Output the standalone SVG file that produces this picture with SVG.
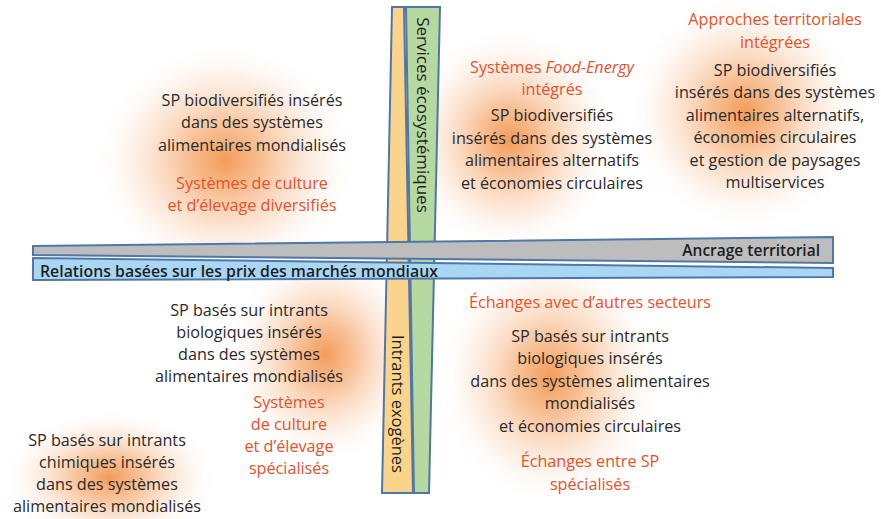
<svg xmlns="http://www.w3.org/2000/svg" width="881" height="519" viewBox="0 0 881 519">
<defs>
<radialGradient id="glow" cx="50%" cy="50%" r="50%">
<stop offset="0" stop-color="#f08a3c" stop-opacity="0.85"/>
<stop offset="0.3" stop-color="#f39a55" stop-opacity="0.6"/>
<stop offset="0.65" stop-color="#f8c49c" stop-opacity="0.3"/>
<stop offset="1" stop-color="#ffffff" stop-opacity="0"/>
</radialGradient>
<style>
text{font-family:"Open Sans","Noto Sans",sans-serif;font-size:16.2px;text-anchor:middle;fill:#2a2a2a}
.r{fill:#e2532e}
.bar{stroke:#4f77a9;stroke-width:2;stroke-linejoin:miter}
.lab{font-size:15.5px;font-weight:600;fill:#1e1e1e}
.v{font-size:17px;fill:#1e1e1e}
</style>
</defs>
<rect width="881" height="519" fill="#ffffff"/>
<g id="glows">
<ellipse cx="225" cy="160" rx="135" ry="120" fill="url(#glow)"/>
<ellipse cx="510" cy="140" rx="110" ry="115" fill="url(#glow)"/>
<ellipse cx="745" cy="112" rx="120" ry="120" fill="url(#glow)"/>
<ellipse cx="325" cy="355" rx="100" ry="110" fill="url(#glow)"/>
<ellipse cx="550" cy="378" rx="115" ry="130" fill="url(#glow)"/>
<ellipse cx="110" cy="478" rx="110" ry="70" fill="url(#glow)"/>
</g>
<g id="axis-vertical">
<polygon class="bar" points="392,7 404,7 413,493 382,493" fill="#fbd48c"/>
<polygon class="bar" points="406,7 440,7 429,493 414,493" fill="#b6d9a1"/>
<text class="v" transform="translate(423,115) rotate(90)" x="0" y="6">Services écosystémiques</text>
<text class="v" transform="translate(398,404) rotate(90)" x="0" y="6" style="font-size:16.5px">Intrants exogènes</text>
</g>
<g id="axis-horizontal">
<polygon class="bar" points="33,246 833,237 833,263 33,255" fill="#bdbdbd"/>
<polygon class="bar" points="33,258 833,268 833,277 33,280" fill="#a9d7f3"/>
<text class="lab" x="820" y="256" style="text-anchor:end">Ancrage territorial</text>
<text class="lab" x="40" y="277" style="text-anchor:start" textLength="398" lengthAdjust="spacingAndGlyphs">Relations basées sur les prix des marchés mondiaux</text>
</g>
<g id="connectors"></g>
<g id="node-top-left">
<text x="252" y="106">SP biodiversifiés insérés</text>
<text x="252" y="128">dans des systèmes</text>
<text x="252" y="151">alimentaires mondialisés</text>
<text class="r" x="252" y="189">Systèmes de culture</text>
<text class="r" x="252" y="211">et d’élevage diversifiés</text>
</g>
<g id="node-top-middle">
<text class="r" x="552" y="73">Systèmes <tspan font-style="italic">Food-Energy</tspan></text>
<text class="r" x="552" y="95">intégrés</text>
<text x="552" y="121">SP biodiversifiés</text>
<text x="552" y="144">insérés dans des systèmes</text>
<text x="552" y="166">alimentaires alternatifs</text>
<text x="552" y="189">et économies circulaires</text>
</g>
<g id="node-top-right">
<text class="r" x="775" y="25">Approches territoriales</text>
<text class="r" x="775" y="48">intégrées</text>
<text x="775" y="76">SP biodiversifiés</text>
<text x="775" y="98">insérés dans des systèmes</text>
<text x="775" y="121">alimentaires alternatifs,</text>
<text x="775" y="143">économies circulaires</text>
<text x="775" y="166">et gestion de paysages</text>
<text x="775" y="188">multiservices</text>
</g>
<g id="node-bottom-left">
<text x="249" y="316">SP basés sur intrants</text>
<text x="249" y="338">biologiques insérés</text>
<text x="249" y="360">dans des systèmes</text>
<text x="249" y="382">alimentaires mondialisés</text>
<text class="r" x="289" y="408">Systèmes</text>
<text class="r" x="289" y="430">de culture</text>
<text class="r" x="289" y="452">et d’élevage</text>
<text class="r" x="289" y="474">spécialisés</text>
</g>
<g id="node-bottom-corner">
<text x="107" y="446">SP basés sur intrants</text>
<text x="107" y="468">chimiques insérés</text>
<text x="107" y="490">dans des systèmes</text>
<text x="107" y="512">alimentaires mondialisés</text>
</g>
<g id="node-bottom-right">
<text class="r" x="590" y="308">Échanges avec d’autres secteurs</text>
<text x="590" y="342">SP basés sur intrants</text>
<text x="590" y="364">biologiques insérés</text>
<text x="590" y="387">dans des systèmes alimentaires</text>
<text x="590" y="409">mondialisés</text>
<text x="590" y="432">et économies circulaires</text>
<text class="r" x="590" y="467">Échanges entre SP</text>
<text class="r" x="590" y="490">spécialisés</text>
</g>
</svg>
